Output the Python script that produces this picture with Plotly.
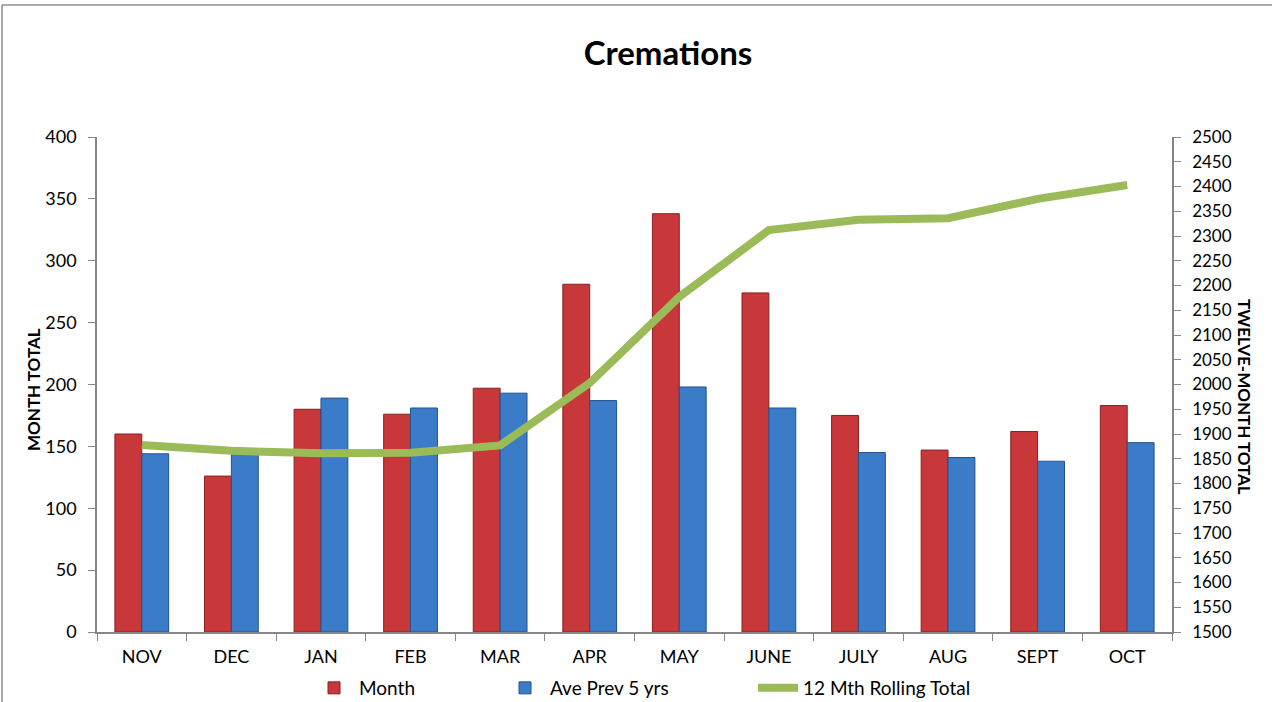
import plotly.graph_objects as go

months = ["NOV", "DEC", "JAN", "FEB", "MAR", "APR", "MAY", "JUNE", "JULY", "AUG", "SEPT", "OCT"]
month_vals = [160, 126, 180, 176, 197, 281, 338, 274, 175, 147, 162, 183]
ave_prev5 = [144, 147, 189, 181, 193, 187, 198, 181, 145, 141, 138, 153]
rolling12 = [1878, 1866, 1861, 1862, 1877, 2003, 2177, 2312, 2333, 2336, 2375, 2403]

FONT = "Lato, 'Liberation Sans', sans-serif"
AXC = "#868686"
W, H = 1272, 702
L, R, T, B = 97, 100, 137, 70
PW, PH = W - L - R, H - T - B


def px_x(px):
    return (px - L) / PW


def px_y(py):
    return (H - B - py) / PH


fig = go.Figure()
fig.add_trace(go.Bar(
    x=months, y=month_vals, name="Month", legend="legend",
    marker=dict(color="#C83739", line=dict(color="#8A1F1F", width=1)),
))
fig.add_trace(go.Bar(
    x=months, y=ave_prev5, name="Ave Prev 5 yrs", legend="legend2",
    marker=dict(color="#3B7CC9", line=dict(color="#23528E", width=1)),
))
fig.add_trace(go.Scatter(
    x=months, y=rolling12, name="12 Mth Rolling Total", yaxis="y2", legend="legend3",
    mode="lines", line=dict(color="#9BBB59", width=8),
))

leg_common = dict(orientation="h", xref="container", yref="container", xanchor="left",
                  yanchor="middle", y=1 - 688 / H, font=dict(size=19, family=FONT),
                  itemwidth=40, bgcolor="rgba(0,0,0,0)")

fig.update_layout(
    width=W, height=H, autosize=False,
    margin=dict(l=L, r=R, t=T, b=B, autoexpand=False),
    paper_bgcolor="white", plot_bgcolor="white",
    font=dict(family=FONT, size=18, color="#000000"),
    title=dict(text="<b>Cremations</b>", font=dict(size=33, family=FONT, color="#000000"),
               xref="paper", x=px_x(668), xanchor="center",
               yref="container", y=1 - 53 / H, yanchor="middle"),
    barmode="group", bargap=0.40, bargroupgap=0.0,
    showlegend=True,
    legend=dict(leg_common, x=309 / W),
    legend2=dict(leg_common, x=500 / W),
    legend3=dict(leg_common, x=753 / W),
    xaxis=dict(showline=True, linecolor=AXC, linewidth=1.5, ticks="outside", tickson="boundaries",
               ticklen=7, tickcolor=AXC, showgrid=False, tickfont=dict(size=18), zeroline=False,
               ticklabelstandoff=8),
    yaxis=dict(range=[0, 400], dtick=50, showline=True, linecolor=AXC, linewidth=1.5,
               ticks="outside", ticklen=7, tickcolor=AXC, showgrid=False, zeroline=False,
               tickfont=dict(size=18), ticklabelstandoff=8),
    yaxis2=dict(range=[1500, 2500], dtick=50, overlaying="y", side="right", showline=True,
                linecolor=AXC, linewidth=1.5, ticks="outside", ticklen=7, tickcolor=AXC,
                showgrid=False, zeroline=False, tickfont=dict(size=17), ticklabelstandoff=8),
    annotations=[
        dict(text="<b>MONTH TOTAL</b>", textangle=-90, xref="paper", yref="paper",
             x=px_x(33), y=px_y(390), xanchor="center", yanchor="middle",
             showarrow=False, font=dict(size=17, family=FONT)),
        dict(text="<b>TWELVE-MONTH TOTAL</b>", textangle=90, xref="paper", yref="paper",
             x=px_x(1245), y=px_y(397), xanchor="center", yanchor="middle",
             showarrow=False, font=dict(size=17, family=FONT)),
    ],
    shapes=[
        dict(type="line", xref="paper", yref="paper", x0=px_x(2), x1=px_x(1272),
             y0=px_y(5), y1=px_y(5), line=dict(color="#8C8C8C", width=1.5)),
        dict(type="line", xref="paper", yref="paper", x0=px_x(2), x1=px_x(2),
             y0=px_y(5), y1=px_y(702), line=dict(color="#8C8C8C", width=1.5)),
    ],
)

fig.write_html("out.html", config={"displayModeBar": False},
               post_script="document.body.style.margin='0';document.body.style.overflow='hidden';")
